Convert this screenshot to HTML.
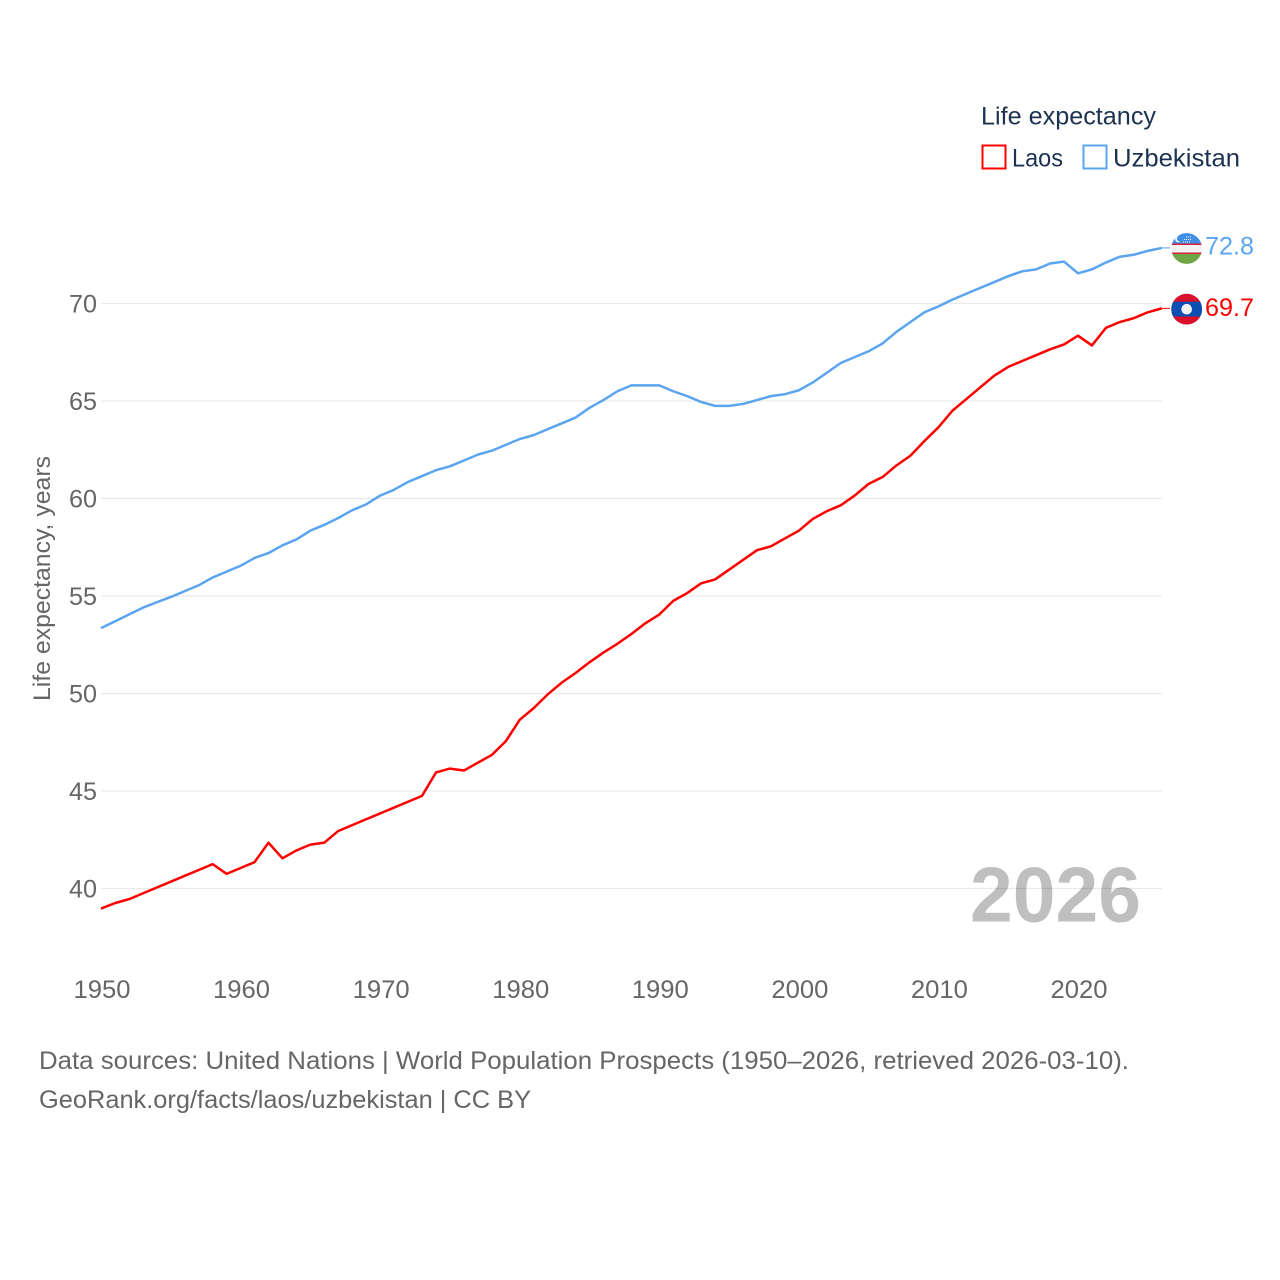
<!DOCTYPE html>
<html lang="en">
<head>
<meta charset="utf-8">
<title>Life expectancy: Laos and Uzbekistan</title>
<style>
html,body{margin:0;padding:0;background:#fff}
svg{display:block}
text{font-family:"Liberation Sans",sans-serif}
</style>
</head>
<body>
<svg id="chart" xmlns="http://www.w3.org/2000/svg" width="1280" height="1280" viewBox="0 0 1280 1280">
  <rect width="1280" height="1280" fill="#fff"/>
  <g id="grid"></g>
  <g id="yticks"></g>
  <g id="xticks"></g>
  <text transform="translate(50,701) rotate(-90)" font-size="24" fill="#666" textLength="245" lengthAdjust="spacingAndGlyphs">Life expectancy, years</text>
  <text x="970" y="921.500" font-size="78" font-weight="bold" fill="#000" fill-opacity="0.25" textLength="171" lengthAdjust="spacingAndGlyphs">2026</text>
  <g id="series"></g>

  <g>
    <clipPath id="clipUz"><circle cx="1186.700" cy="248.500" r="15.400"/></clipPath>
    <g clip-path="url(#clipUz)">
      <rect x="1170" y="232" width="34" height="12" fill="#3f8fe8"/>
      <rect x="1170" y="243.500" width="34" height="1.500" fill="#d8213b"/>
      <rect x="1170" y="245" width="34" height="7.500" fill="#f2f2f2"/>
      <rect x="1170" y="252.500" width="34" height="1.500" fill="#d8213b"/>
      <rect x="1170" y="254" width="34" height="11" fill="#6fa544"/>
      <circle cx="1178.500" cy="239" r="3.400" fill="#fff"/>
      <circle cx="1180.200" cy="238.600" r="3.200" fill="#3f8fe8"/>
      <line x1="1186" x2="1191" y1="237" y2="237" stroke="#fff" stroke-width="1" stroke-dasharray="1 1"/>
      <line x1="1184" x2="1191" y1="239.500" y2="239.500" stroke="#fff" stroke-width="1" stroke-dasharray="1 1"/>
      <line x1="1183" x2="1191" y1="242" y2="242" stroke="#fff" stroke-width="1" stroke-dasharray="1 1"/>
    </g>
  </g>
  <g>
    <clipPath id="clipLa"><circle cx="1186.700" cy="309.200" r="15.400"/></clipPath>
    <g clip-path="url(#clipLa)">
      <rect x="1170" y="293" width="34" height="33" fill="#d9112f"/>
      <rect x="1170" y="301.700" width="34" height="14.800" fill="#0b4fb3"/>
      <circle cx="1186.700" cy="309.200" r="5.300" fill="#f2f2f2"/>
    </g>
  </g>
  <text x="1205" y="254.500" font-size="25" fill="#5ba4ef" textLength="49" lengthAdjust="spacingAndGlyphs">72.8</text>
  <text x="1205" y="316" font-size="25" fill="#ff0000" textLength="49" lengthAdjust="spacingAndGlyphs">69.7</text>

  <g>
    <text x="981" y="124.500" font-size="25" fill="#1c3250" textLength="175" lengthAdjust="spacingAndGlyphs">Life expectancy</text>
    <g>
      <rect x="982.500" y="145.500" width="23" height="23" fill="#fff" stroke="#ff0000" stroke-width="2"/>
      <text x="1012" y="166.500" font-size="25" fill="#1c3250" textLength="51" lengthAdjust="spacingAndGlyphs">Laos</text>
    </g>
    <g>
      <rect x="1083.500" y="145.500" width="23" height="23" fill="#fff" stroke="#5ba4ef" stroke-width="2"/>
      <text x="1113" y="166.500" font-size="25" fill="#1c3250" textLength="127" lengthAdjust="spacingAndGlyphs">Uzbekistan</text>
    </g>
  </g>

  <text x="39" y="1069" font-size="25" fill="#666" textLength="1090" lengthAdjust="spacingAndGlyphs">Data sources: United Nations | World Population Prospects (1950–2026, retrieved 2026-03-10).</text>
  <text x="39" y="1108" font-size="25" fill="#666" textLength="492" lengthAdjust="spacingAndGlyphs">GeoRank.org/facts/laos/uzbekistan | CC BY</text>
</svg>
<script>
const yTickValues = [40, 45, 50, 55, 60, 65, 70];
const xTickValues = [1950, 1960, 1970, 1980, 1990, 2000, 2010, 2020];
const startYear = 1950;
const laosValues = [38.97,39.25,39.45,39.75,40.05,40.35,40.65,40.95,41.25,40.75,41.05,41.35,42.35,41.55,41.95,42.25,42.35,42.95,43.25,43.55,43.85,44.15,44.45,44.75,45.95,46.15,46.05,46.45,46.85,47.55,48.65,49.25,49.95,50.55,51.05,51.6,52.1,52.55,53.05,53.6,54.05,54.75,55.15,55.65,55.85,56.35,56.85,57.35,57.55,57.95,58.35,58.95,59.35,59.65,60.15,60.75,61.1,61.7,62.2,62.95,63.65,64.5,65.1,65.7,66.3,66.75,67.05,67.35,67.65,67.9,68.35,67.85,68.75,69.05,69.25,69.55,69.75];
const uzbekistanValues = [53.35,53.7,54.05,54.4,54.68,54.95,55.25,55.55,55.95,56.25,56.55,56.95,57.2,57.6,57.9,58.35,58.65,59.0,59.4,59.7,60.15,60.45,60.85,61.15,61.45,61.65,61.95,62.25,62.45,62.75,63.05,63.25,63.55,63.85,64.15,64.65,65.05,65.5,65.8,65.8,65.8,65.5,65.25,64.95,64.75,64.75,64.85,65.05,65.25,65.35,65.55,65.95,66.45,66.95,67.25,67.55,67.95,68.55,69.05,69.55,69.85,70.2,70.5,70.8,71.1,71.4,71.65,71.75,72.05,72.15,71.55,71.75,72.1,72.4,72.5,72.7,72.85];

const NS = 'http://www.w3.org/2000/svg';
function xScale(year) { return 101 + (year - 1950) * 13.957; }
function yScale(v) { return 888.5 - (v - 40) * 19.5; }
function make(tag, attrs, parent) {
  const el = document.createElementNS(NS, tag);
  for (const k in attrs) el.setAttribute(k, attrs[k]);
  parent.appendChild(el);
  return el;
}
const grid = document.getElementById('grid');
const yticks = document.getElementById('yticks');
const xticks = document.getElementById('xticks');
const series = document.getElementById('series');

yTickValues.forEach(function (v) {
  const line = make('line', {x1: 101, x2: 1162, y1: yScale(v), y2: yScale(v), stroke: '#e9e9e9', 'stroke-width': 1.3}, grid);
  
  
  const t = make('text', {x: 97, y: yScale(v) + 9, 'text-anchor': 'end', 'font-size': 25, fill: '#666', textLength: 28, lengthAdjust: 'spacingAndGlyphs'}, yticks);
  t.textContent = v;
  
  
});
xTickValues.forEach(function (y) {
  const t = make('text', {x: xScale(y) - 27.500, y: 998, 'font-size': 25, fill: '#666', textLength: 57, lengthAdjust: 'spacingAndGlyphs'}, xticks);
  t.textContent = y;
  
  
});
function pathFor(values) {
  return values.map(function (v, i) {
    return (i ? 'L' : 'M') + xScale(startYear + i).toFixed(2) + ' ' + yScale(v).toFixed(2);
  }).join('');
}
const laosLine = make('path', {d: pathFor(laosValues), fill: 'none', stroke: '#ff0000', 'stroke-width': 2.5, 'stroke-linejoin': 'round'}, series);


const uzLine = make('path', {d: pathFor(uzbekistanValues), fill: 'none', stroke: '#5ba4ef', 'stroke-width': 2.5, 'stroke-linejoin': 'round'}, series);



const lastYear = startYear + laosValues.length - 1;
const laosConnector = make('line', {x1: xScale(lastYear), x2: 1170, y1: yScale(laosValues[laosValues.length - 1]), y2: yScale(laosValues[laosValues.length - 1]), stroke: '#ff0000', 'stroke-width': 1}, series);


const uzConnector = make('line', {x1: xScale(lastYear), x2: 1170, y1: yScale(uzbekistanValues[uzbekistanValues.length - 1]), y2: yScale(uzbekistanValues[uzbekistanValues.length - 1]), stroke: '#5ba4ef', 'stroke-width': 1}, series);


</script>
</body>
</html>
